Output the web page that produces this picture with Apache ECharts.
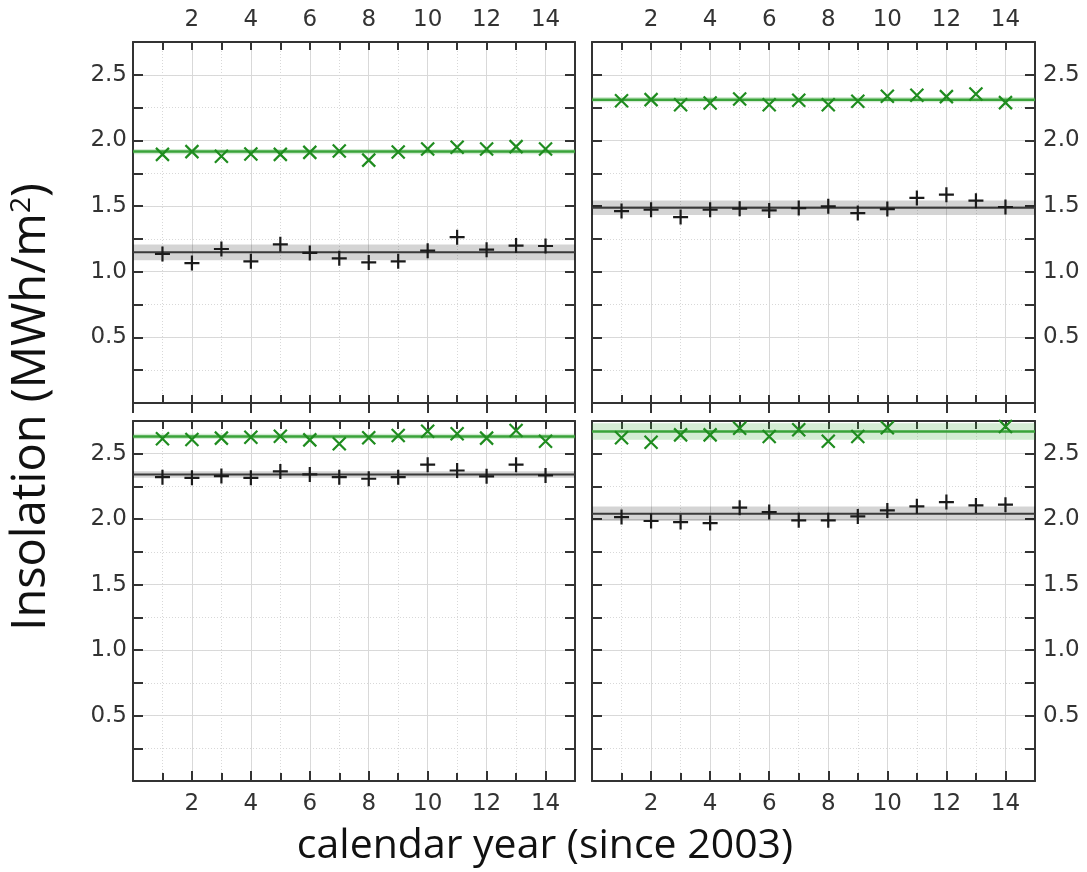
<!DOCTYPE html>
<html lang="en">
<head>
<meta charset="UTF-8">
<title>Insolation</title>
<style>
    *{margin:0;padding:0;}
    body{background:#fff;}
    #box{width:1087px;height:872px;}
</style>
<script src="https://cdn.jsdelivr.net/npm/echarts@6/dist/echarts.min.js"></script>
</head>
<body>
<div id="box"></div>
<script>
    // calendar year (since 2003)
    var years = [1, 2, 3, 4, 5, 6, 7, 8, 9, 10, 11, 12, 13, 14];

    // top left panel
    var tlGreen = [1.894, 1.915, 1.879, 1.897, 1.894, 1.909, 1.92, 1.85, 1.912, 1.935, 1.948, 1.935, 1.953, 1.935];
    var tlBlack = [1.135, 1.066, 1.173, 1.079, 1.209, 1.143, 1.102, 1.071, 1.079, 1.16, 1.263, 1.168, 1.199, 1.196];
    var tlFit = [1.915, 1.148];   // green, black
    var tlBand = [0.02, 0.06];

    // top right panel
    var trGreen = [2.303, 2.311, 2.272, 2.285, 2.316, 2.272, 2.306, 2.272, 2.298, 2.337, 2.344, 2.334, 2.354, 2.288];
    var trBlack = [1.462, 1.472, 1.416, 1.472, 1.48, 1.467, 1.485, 1.498, 1.447, 1.477, 1.562, 1.587, 1.541, 1.493];
    var trFit = [2.311, 1.488];
    var trBand = [0.02, 0.055];

    // bottom left panel
    var blGreen = [2.614, 2.609, 2.619, 2.626, 2.634, 2.606, 2.576, 2.622, 2.639, 2.672, 2.652, 2.619, 2.677, 2.596];
    var blBlack = [2.321, 2.316, 2.329, 2.316, 2.365, 2.342, 2.321, 2.309, 2.321, 2.416, 2.372, 2.327, 2.416, 2.334];
    var blFit = [2.632, 2.342];
    var blBand = [0.02, 0.025];

    // bottom right panel
    var brGreen = [2.622, 2.588, 2.644, 2.644, 2.695, 2.632, 2.683, 2.596, 2.632, 2.698, 2.755, 2.755, 2.83, 2.708];
    var brBlack = [2.016, 1.986, 1.978, 1.97, 2.088, 2.055, 1.991, 1.991, 2.021, 2.067, 2.098, 2.131, 2.105, 2.111];
    var brFit = [2.67, 2.042];
    var brBand = [0.063, 0.055];

    var xMin = 0, xMax = 15;
    var yMin = 0, yMax = 2.75;

    var panels = [
        {left: 133, top: 42, width: 442, height: 361, xSide: 'top', ySide: 'left', green: tlGreen, black: tlBlack, fit: tlFit, band: tlBand},
        {left: 592, top: 42, width: 443, height: 361, xSide: 'top', ySide: 'right', green: trGreen, black: trBlack, fit: trFit, band: trBand},
        {left: 133, top: 421, width: 442, height: 360, xSide: 'bottom', ySide: 'left', green: blGreen, black: blBlack, fit: blFit, band: blBand},
        {left: 592, top: 421, width: 443, height: 360, xSide: 'bottom', ySide: 'right', green: brGreen, black: brBlack, fit: brFit, band: brBand}
    ];

    var other = {top: 'bottom', bottom: 'top', left: 'right', right: 'left'};
    var labelFont = 'DejaVu Sans';
    var frame = {show: true, onZero: false, lineStyle: {color: '#333', width: 2}};
    var ticks = {show: true, inside: true, length: 8, lineStyle: {color: '#333', width: 2}};
    var longTicks = {show: true, inside: true, length: 10, lineStyle: {color: '#333', width: 2}};

    function xLabel(v) {
        return (v % 2 === 0 && v > xMin && v < xMax) ? String(v) : '';
    }
    function yLabel(v) {
        var k = Math.round(v * 2);
        return (Math.abs(v * 2 - k) < 1e-6 && v > 0.01 && v < 2.6) ? v.toFixed(1) : '';
    }

    var grids = [], xAxes = [], yAxes = [], series = [];

    panels.forEach(function (p, i) {
        grids.push({left: p.left, top: p.top, width: p.width, height: p.height,
            containLabel: false, outerBoundsMode: 'none', show: true, backgroundColor: '#fff', borderWidth: 0});

        // solid grid lines at even years (longer ticks on both sides)
        xAxes.push({gridIndex: i, type: 'value', min: xMin, max: xMax, interval: 2, position: p.xSide,
            axisLine: {show: false}, axisTick: longTicks, axisLabel: {show: false},
            splitLine: {show: true, lineStyle: {color: '#d9d9d9', width: 1}}});
        // opposite frame side with dotted lines at every year
        xAxes.push({gridIndex: i, type: 'value', min: xMin, max: xMax, interval: 1, position: other[p.xSide],
            axisLine: frame, axisTick: ticks, axisLabel: {show: false},
            splitLine: {show: true, lineStyle: {color: '#d8d8d8', width: 1, type: [1, 2]}}});
        // labelled side
        xAxes.push({gridIndex: i, type: 'value', min: xMin, max: xMax, interval: 1, position: p.xSide,
            axisLine: frame, axisTick: ticks,
            axisLabel: {show: true, formatter: xLabel, margin: p.xSide === 'top' ? 10 : 12, color: '#333', fontSize: 23, fontFamily: labelFont},
            splitLine: {show: false}});

        yAxes.push({gridIndex: i, type: 'value', min: yMin, max: yMax, interval: 0.5, position: p.ySide,
            axisLine: {show: false}, axisTick: {show: false}, axisLabel: {show: false},
            splitLine: {show: true, lineStyle: {color: '#d9d9d9', width: 1}}});
        yAxes.push({gridIndex: i, type: 'value', min: yMin, max: yMax, interval: 0.25, position: other[p.ySide],
            axisLine: frame, axisTick: longTicks, axisLabel: {show: false},
            splitLine: {show: true, lineStyle: {color: '#d8d8d8', width: 1, type: [1, 2]}}});
        yAxes.push({gridIndex: i, type: 'value', min: yMin, max: yMax, interval: 0.25, position: p.ySide,
            axisLine: frame, axisTick: longTicks,
            axisLabel: {show: true, formatter: yLabel, margin: p.ySide === 'left' ? 6 : 8, color: '#333', fontSize: 23, fontFamily: labelFont},
            splitLine: {show: false}});

        var xi = i * 3 + 2, yi = i * 3 + 2;
        var looks = [
            {data: p.green, fit: p.fit[0], band: p.band[0], line: '#3aa33a', width: 2.5, area: 'rgba(60,170,60,0.22)',
             mark: '#1f8c1f', symbol: 'path://M0,0L10,10M10,0L0,10', size: 13},
            {data: p.black, fit: p.fit[1], band: p.band[1], line: '#3a3a3a', width: 2, area: 'rgba(0,0,0,0.17)',
             mark: '#1a1a1a', symbol: 'path://M5,0L5,10M0,5L10,5', size: 15}
        ];
        looks.forEach(function (s) {
            series.push({
                type: 'line', xAxisIndex: xi, yAxisIndex: yi, z: 2,
                data: [[xMin, s.fit], [xMax, s.fit]],
                symbol: 'none', silent: true,
                lineStyle: {color: s.line, width: s.width},
                markArea: {silent: true, itemStyle: {color: s.area},
                    data: [[{yAxis: s.fit - s.band}, {yAxis: s.fit + s.band}]]}
            });
            series.push({
                type: 'scatter', xAxisIndex: xi, yAxisIndex: yi, z: 4, clip: true,
                data: years.map(function (x, k) { return [x, s.data[k]]; }),
                symbol: s.symbol, symbolSize: s.size,
                itemStyle: {color: 'rgba(0,0,0,0)', borderColor: s.mark, borderWidth: 2.2, opacity: 1}
            });
        });
    });

    var myChart = echarts.init(document.getElementById('box'));
    var option = {
        backgroundColor: '#fff',
        animation: false,
        grid: grids,
        xAxis: xAxes,
        yAxis: yAxes,
        series: series,
        graphic: [
            {
                type: 'text', x: 32, y: 407, rotation: Math.PI / 2,
                style: {
                    text: '{a|Insolation (MWh/m}{s|2}{a|)}',
                    align: 'center', verticalAlign: 'middle',
                    rich: {
                        a: {fontSize: 47, fontFamily: 'Open Sans', fill: '#111'},
                        s: {fontSize: 28, fontFamily: 'Open Sans', fill: '#111', verticalAlign: 'top'}
                    }
                }
            },
            {
                type: 'text', x: 545, y: 846,
                style: {
                    text: 'calendar year (since 2003)',
                    align: 'center', verticalAlign: 'middle',
                    fontSize: 41, fontFamily: 'Open Sans', fill: '#111'
                }
            }
        ]
    };
    myChart.setOption(option);
</script>
</body>
</html>
